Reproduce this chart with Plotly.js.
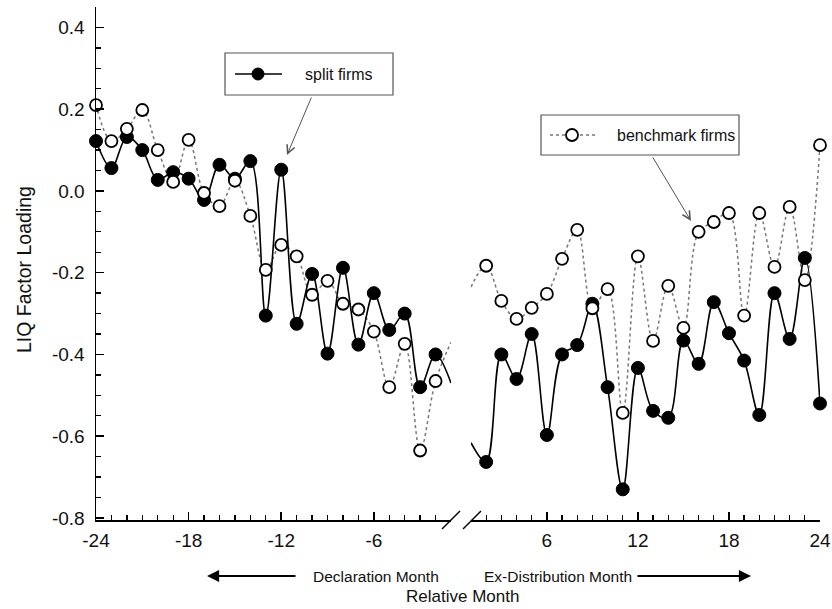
<!DOCTYPE html>
<html>
<head>
<meta charset="utf-8">
<script src="https://cdn.plot.ly/plotly-3.0.1.min.js"></script>
<style>html,body{margin:0;padding:0;background:#fff;}#chart{width:832px;height:609px;}</style>
</head>
<body>
<div id="chart"></div>
<script>
// ---- data ----
var monthsLeft = [-24,-23,-22,-21,-20,-19,-18,-17,-16,-15,-14,-13,-12,-11,-10,-9,-8,-7,-6,-5,-4,-3,-2,-1];
var splitLeft = [0.122,0.056,0.132,0.100,0.027,0.046,0.030,-0.022,0.064,0.030,0.073,-0.305,0.052,-0.325,-0.203,-0.398,-0.188,-0.376,-0.250,-0.340,-0.300,-0.480,-0.400,-0.470];
var benchLeft = [0.210,0.122,0.152,0.198,0.100,0.022,0.125,-0.005,-0.037,0.025,-0.061,-0.193,-0.132,-0.160,-0.254,-0.220,-0.276,-0.290,-0.344,-0.480,-0.374,-0.635,-0.465,-0.370];

var monthsRight = [1,2,3,4,5,6,7,8,9,10,11,12,13,14,15,16,17,18,19,20,21,22,23,24];
var splitRight = [-0.616,-0.663,-0.400,-0.460,-0.350,-0.597,-0.400,-0.377,-0.276,-0.480,-0.730,-0.433,-0.538,-0.555,-0.366,-0.423,-0.272,-0.348,-0.415,-0.548,-0.250,-0.362,-0.164,-0.520];
var benchRight = [-0.235,-0.183,-0.269,-0.313,-0.286,-0.252,-0.166,-0.095,-0.287,-0.240,-0.543,-0.160,-0.367,-0.232,-0.335,-0.100,-0.076,-0.054,-0.305,-0.054,-0.186,-0.039,-0.218,0.112];

var xTickLeft = [-24,-18,-12,-6];
var xTickLeftText = ['-24','-18','-12','-6'];
var xTickRight = [6,12,18,24];
var xTickRightText = ['6','12','18','24'];
var yTicks = [-0.8,-0.6,-0.4,-0.2,0.0,0.2,0.4];
var yTickText = ['-0.8','-0.6','-0.4','-0.2','0.0','0.2','0.4'];
var xMinorLeft = [-23,-22,-21,-20,-19,-17,-16,-15,-14,-13,-11,-10,-9,-8,-7,-5,-4,-3,-2,-1];
var xMinorRight = [1,2,3,4,5,7,8,9,10,11,13,14,15,16,17,19,20,21,22,23];
var yMinor = [-0.75,-0.7,-0.65,-0.55,-0.5,-0.45,-0.35,-0.3,-0.25,-0.15,-0.1,-0.05,0.05,0.1,0.15,0.25,0.3,0.35,0.45];

var seriesNames = ['split firms','benchmark firms'];
var xTitle = 'Relative Month';
var yTitle = 'LIQ Factor Loading';
var leftLabel = 'Declaration Month';
var rightLabel = 'Ex-Distribution Month';

// ---- styles ----
var FONT = 'Liberation Sans, Arial, Helvetica, sans-serif';
var NARROW = 'Liberation Sans Narrow, Arial Narrow, Liberation Sans, Arial, sans-serif';
var splitLine = {color:'#000', width:1.6, shape:'spline', smoothing:1};
var benchLine = {color:'#777', width:1.5, dash:'dot', shape:'spline', smoothing:1};
var splitMarker = {symbol:'circle', size:13, color:'#000', line:{color:'#000', width:1}};
var benchMarker = {symbol:'circle', size:12, color:'#fff', line:{color:'#000', width:1.8}};

function lineTrace(x, y, line, xa){ return {x:x, y:y, mode:'lines', line:line, xaxis:xa, yaxis:'y', showlegend:false, hoverinfo:'skip'}; }
function markTrace(x, y, m, xa){ return {x:x, y:y, mode:'markers', marker:m, xaxis:xa, yaxis:'y', showlegend:false, cliponaxis:false}; }

var traces = [
  lineTrace(monthsLeft, benchLeft, benchLine, 'x'),
  lineTrace(monthsRight, benchRight, benchLine, 'x2'),
  lineTrace(monthsLeft, splitLeft, splitLine, 'x'),
  lineTrace(monthsRight, splitRight, splitLine, 'x2'),
  markTrace(monthsLeft.slice(0,-1), splitLeft.slice(0,-1), splitMarker, 'x'),
  markTrace(monthsRight.slice(1), splitRight.slice(1), splitMarker, 'x2'),
  markTrace(monthsLeft.slice(0,-1), benchLeft.slice(0,-1), benchMarker, 'x'),
  markTrace(monthsRight.slice(1), benchRight.slice(1), benchMarker, 'x2')
];

// pixel -> paper helpers (plot area 96..820 x 7..520)
var L=96, R=820, T=7, B=520;
function px(x){ return (x-L)/(R-L); }
function py(y){ return (B-y)/(B-T); }

function xaxisCfg(domain, range, tv, tt, mv){
  return {domain:domain, range:range, anchor:'y', showline:true, linecolor:'#000', linewidth:1.5,
    ticks:'inside', ticklen:8, tickwidth:1.5, tickcolor:'#000', tickmode:'array', tickvals:tv, ticktext:tt,
    minor:{tickmode:'array', tickvals:mv, ticks:'inside', ticklen:5, tickwidth:1.3, tickcolor:'#000', showgrid:false},
    showgrid:false, zeroline:false, tickfont:{family:FONT, size:19, color:'#111'}, ticklabelstandoff:3, fixedrange:true};
}

var layout = {
  width:832, height:609,
  margin:{l:L, r:832-R, t:T, b:609-B, pad:0},
  paper_bgcolor:'#fff', plot_bgcolor:'#fff',
  showlegend:false,
  xaxis: xaxisCfg([0, px(451)], [-24,-1], xTickLeft, xTickLeftText, xMinorLeft),
  xaxis2: xaxisCfg([px(471), 1], [1,24], xTickRight, xTickRightText, xMinorRight),
  yaxis:{range:[-0.805,0.45], showline:true, linecolor:'#000', linewidth:1.5, ticks:'inside', ticklen:8, tickwidth:1.5, tickcolor:'#000',
    tickmode:'array', tickvals:yTicks, ticktext:yTickText, ticklabelstandoff:6,
    minor:{tickmode:'array', tickvals:yMinor, ticks:'inside', ticklen:5, tickwidth:1.3, tickcolor:'#000', showgrid:false},
    showgrid:false, zeroline:false, tickfont:{family:FONT, size:19, color:'#111'}, fixedrange:true},
  shapes:[
    // axis break marks
    {type:'line', xref:'paper', yref:'paper', x0:px(442), y0:py(529), x1:px(460), y1:py(511), line:{color:'#000', width:1.5}},
    {type:'line', xref:'paper', yref:'paper', x0:px(463), y0:py(529), x1:px(481), y1:py(511), line:{color:'#000', width:1.5}},
    // split firms box
    {type:'rect', xref:'paper', yref:'paper', x0:px(225), x1:px(393), y0:py(95), y1:py(53), line:{color:'#555', width:1.2}, fillcolor:'#fff'},
    {type:'line', xref:'paper', yref:'paper', x0:px(235), x1:px(282), y0:py(74), y1:py(74), line:{color:'#000', width:1.6}},
    {type:'circle', xref:'paper', yref:'paper', x0:px(252), x1:px(264), y0:py(80), y1:py(68), line:{color:'#000', width:1}, fillcolor:'#000'},
    // benchmark firms box
    {type:'rect', xref:'paper', yref:'paper', x0:px(541), x1:px(739), y0:py(155), y1:py(115), line:{color:'#555', width:1.2}, fillcolor:'#fff'},
    {type:'line', xref:'paper', yref:'paper', x0:px(550), x1:px(595), y0:py(135), y1:py(135), line:{color:'#777', width:1.5, dash:'dot'}},
    {type:'circle', xref:'paper', yref:'paper', x0:px(566), x1:px(578), y0:py(141), y1:py(129), line:{color:'#000', width:1.8}, fillcolor:'#fff'}
  ],
  annotations:[
    {xref:'paper', yref:'paper', x:px(24), y:py(270), text:yTitle, textangle:-90, showarrow:false, xanchor:'center', yanchor:'middle', font:{family:FONT, size:19.5, color:'#111'}},
    {xref:'paper', yref:'paper', x:px(462), y:py(596), text:xTitle, showarrow:false, xanchor:'center', yanchor:'middle', font:{family:FONT, size:17, color:'#111'}},
    {xref:'paper', yref:'paper', x:px(376), y:py(576), text:leftLabel, showarrow:false, xanchor:'center', yanchor:'middle', font:{family:NARROW, size:15.5, color:'#111'}},
    {xref:'paper', yref:'paper', x:px(558), y:py(576), text:rightLabel, showarrow:false, xanchor:'center', yanchor:'middle', font:{family:NARROW, size:15.5, color:'#111'}},
    {xref:'paper', yref:'paper', x:px(207), y:py(576), text:'', showarrow:true, ax:90, ay:0, arrowhead:2, arrowsize:1.1, arrowwidth:2.2, arrowcolor:'#000'},
    {xref:'paper', yref:'paper', x:px(751), y:py(576), text:'', showarrow:true, ax:-115, ay:0, arrowhead:2, arrowsize:1.1, arrowwidth:2.2, arrowcolor:'#000'},
    {xref:'paper', yref:'paper', x:px(303), y:py(74), text:seriesNames[0], showarrow:false, xanchor:'left', yanchor:'middle', font:{family:FONT, size:16, color:'#111'}},
    {xref:'paper', yref:'paper', x:px(615), y:py(135), text:seriesNames[1], showarrow:false, xanchor:'left', yanchor:'middle', font:{family:FONT, size:16, color:'#111'}},
    {xref:'paper', yref:'paper', x:px(287), y:py(155), text:'', showarrow:true, ax:25, ay:-59, arrowhead:5, arrowsize:1.6, arrowwidth:1, arrowcolor:'#555'},
    {xref:'paper', yref:'paper', x:px(691), y:py(221), text:'', showarrow:true, ax:-39, ay:-65, arrowhead:5, arrowsize:1.6, arrowwidth:1, arrowcolor:'#555'}
  ]
};

Plotly.newPlot('chart', traces, layout, {displayModeBar:false, staticPlot:true});
</script>
</body>
</html>
